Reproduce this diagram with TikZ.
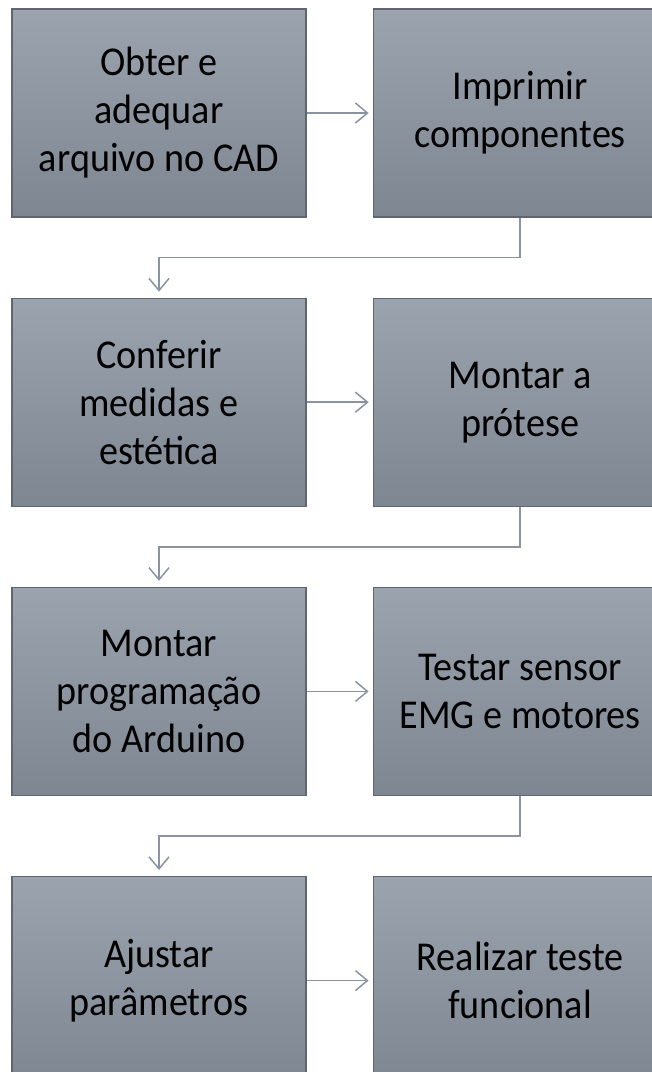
\documentclass[tikz,border=0pt]{standalone}
\usepackage{fontspec}
\setmainfont{Carlito}[FakeStretch=0.93]
\usetikzlibrary{arrows.meta, positioning, calc}

\definecolor{boxtop}{HTML}{9AA3AE}
\definecolor{boxbot}{HTML}{7D8691}
\definecolor{boxline}{HTML}{5F666F}
\definecolor{linkgray}{HTML}{8A939F}

\begin{document}
\begin{tikzpicture}[x=1pt, y=1pt,
    block/.style={draw=boxline, line width=1.2pt, top color=boxtop, bottom color=boxbot,
        minimum width=294pt, minimum height=208pt, align=center, inner sep=0pt,
        font=\fontsize{41}{48}\selectfont},
    link/.style={draw=linkgray, line width=1.5pt, -{Straight Barb[length=12pt,width=20pt]}},
    node distance=80pt and 66pt]

            % page frame
            \clip (0,0) rectangle (652,-1072);

            %--- steps, row by row
            \node[block] (cad) at (159,-113) {Obter e\\adequar\\arquivo no CAD};
            \node[block, right=of cad]    (print)  {Imprimir\\componentes};
            \node[block, below=of cad]    (check)  {Conferir\\medidas e\\estética};
            \node[block, right=of check]  (mount)  {Montar a\\prótese};
            \node[block, below=of check]  (code)   {Montar\\programação\\do Arduino};
            \node[block, right=of code]   (test)   {Testar sensor\\EMG e motores};
            \node[block, below=of code]   (adjust) {Ajustar\\parâmetros};
            \node[block, right=of adjust] (final)  {Realizar teste\\funcional};

            %---- arrows inside a row
            \draw[link, shorten >=4pt] (cad.east)    -- (print.west);
            \draw[link, shorten >=4pt] (check.east)  -- (mount.west);
            \draw[link, shorten >=4pt] (code.east)   -- (test.west);
            \draw[link, shorten >=4pt] (adjust.east) -- (final.west);

            %---- arrows back to the next row
            \draw[link, shorten >=6pt] (print.south) |- ($(print.south)!0.5!(check.north)$) -| (check.north);
            \draw[link, shorten >=6pt] (mount.south) |- ($(mount.south)!0.5!(code.north)$) -| (code.north);
            \draw[link, shorten >=6pt] (test.south)  |- ($(test.south)!0.5!(adjust.north)$) -| (adjust.north);
        \end{tikzpicture}
\end{document}
